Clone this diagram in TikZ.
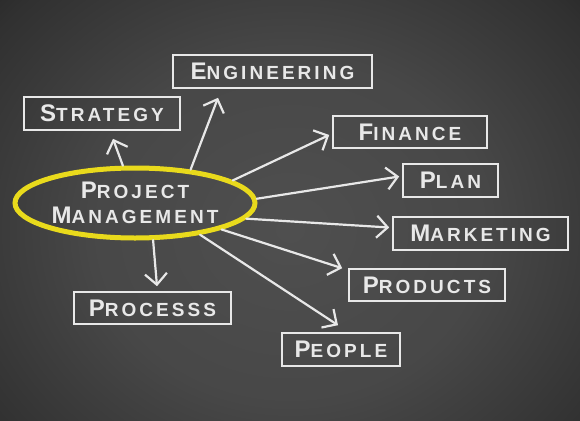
\documentclass[tikz,border=0pt]{standalone}
\usepackage{fontspec}
\setmainfont[LetterSpace=16]{Liberation Sans}
\usetikzlibrary{arrows.meta,shapes.geometric}
\definecolor{chalk}{HTML}{E8E8E8}
\definecolor{chalkyellow}{HTML}{E9DA1C}
\pgfdeclareradialshading{board}{\pgfpoint{0bp}{0bp}}{rgb(0bp)=(0.31,0.31,0.31); rgb(16bp)=(0.28,0.28,0.28); rgb(30bp)=(0.19,0.19,0.19); rgb(40bp)=(0.09,0.09,0.09); rgb(47bp)=(0.04,0.04,0.04); rgb(50bp)=(0.03,0.03,0.03)}
\newcommand{\chalkcap}[2]{{\fontsize{24}{25}\selectfont #1}{\fontsize{19}{25}\selectfont #2}}
\begin{document}
\begin{tikzpicture}[x=1pt,y=-1pt,
  box/.style={draw=chalk, line width=1.6pt, text=chalk, inner sep=0pt, rectangle, font=\bfseries},
  arr/.style={draw=chalk, line width=2.2pt, line cap=round, -{Straight Barb[length=11pt,width=22pt,line width=2.2pt]}},
]
\useasboundingbox (0,0) rectangle (580,420);
\begin{scope}
\clip (0,0) rectangle (580,420);
\fill[black!95] (0,0) rectangle (580,420);
\shade[shading=board] (-20,-40) rectangle (600,500);
\end{scope}

\node[box, minimum width=199pt, minimum height=33pt] (eng) at (272.5,71.5) {\chalkcap{E}{NGINEERING}};
\node[box, minimum width=156pt, minimum height=33pt] (strat) at (102,113.5) {\chalkcap{S}{TRATEGY}};
\node[box, minimum width=154pt, minimum height=32pt] (fin) at (410,132) {\chalkcap{F}{INANCE}};
\node[box, minimum width=95pt, minimum height=33pt] (plan) at (450.5,180.5) {\chalkcap{P}{LAN}};
\node[box, minimum width=175pt, minimum height=33pt] (mkt) at (480.5,233.5) {\chalkcap{M}{ARKETING}};
\node[box, minimum width=156pt, minimum height=32pt] (prod) at (427,285) {\chalkcap{P}{RODUCTS}};
\node[box, minimum width=157pt, minimum height=32pt] (proc) at (152.5,308) {\chalkcap{P}{ROCESSS}};
\node[box, minimum width=118pt, minimum height=33pt] (ppl) at (341,349.5) {\chalkcap{P}{EOPLE}};

\node[ellipse, draw=chalkyellow, line width=5pt, minimum width=240pt, minimum height=70pt, inner sep=0pt, text=chalk, align=center, font=\bfseries\fontsize{19}{25}\selectfont] (pm) at (135,203)
  {\chalkcap{P}{ROJECT}\\\chalkcap{M}{ANAGEMENT}};

\draw[arr] (pm.108) -- ([xshift=11pt,yshift=-8pt]strat.south);
\draw[arr] (pm.31) -- ([xshift=-54.5pt,yshift=-9pt]eng.south);
\draw[arr] (pm.13) -- ([xshift=-3pt,yshift=-3pt]fin.west);
\draw[arr] (pm.2) -- ([xshift=-3pt,yshift=4pt]plan.west);
\draw[arr] (pm.-8) -- ([xshift=-3pt,yshift=6pt]mkt.west);
\draw[arr] (pm.-17) -- ([xshift=-6pt]prod.north west);
\draw[arr] (pm.-26) -- ([xshift=-3pt,yshift=7pt]ppl.north);
\draw[arr] (pm.-64) -- ([xshift=4.5pt,yshift=5pt]proc.north);
\end{tikzpicture}
\end{document}
